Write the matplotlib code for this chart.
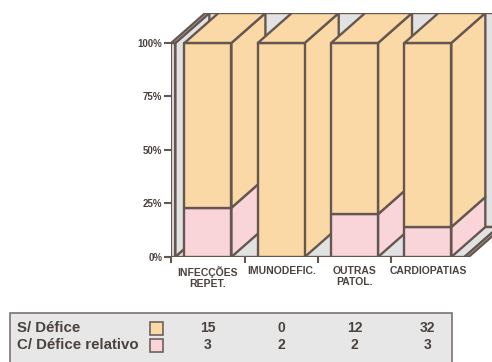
import matplotlib
matplotlib.use("Agg")
import matplotlib.pyplot as plt
from matplotlib.patches import Polygon, Rectangle
import matplotlib.transforms as mtransforms

# data
categorias = ["INFECÇÕES\nREPET.", "IMUNODEFIC.", "OUTRAS\nPATOL.", "CARDIOPATIAS"]
pct_relativo = [23, 0, 20, 14]      # lower (pink) part, %
pct_sem = [77, 100, 80, 86]         # upper (orange) part
tab_sem = [15, 0, 12, 32]
tab_relativo = [3, 2, 2, 3]
series_nomes = ["S/ Défice", "C/ Défice relativo"]
yticks = [0, 25, 50, 75, 100]

laranja = "#fbd9a6"
rosa = "#f9d5da"
cinza = "#e2e2e2"
linha = "#655650"
texto = "#4a423e"

plt.rcParams["font.family"] = ["Liberation Sans", "DejaVu Sans"]
plt.rcParams["font.weight"] = "bold"

W, H = 492, 362
fig = plt.figure(figsize=(W / 100, H / 100), dpi=100)

def fx(px):
    return px / W

def fy(py):
    return 1 - py / H

# axes: 0% at y=257px, top of depth at y=13px, x from 171px to right edge
ax = fig.add_axes([fx(171.3), fy(257), fx(W - 171.3), (257 - 13) / H])
ax.set_xlim(-0.5, 3.875)
ax.set_ylim(0, 114)
ax.patch.set_visible(False)
for s in ax.spines.values():
    s.set_visible(False)

dx, dy = 0.464, 14.0     # oblique depth
t = 0.055                # wall thickness
x0, xr = -0.5, 3.5
bw = 0.32                # half bar width
lw = 1.7

def poly(pts, fc, z=1):
    ax.add_patch(Polygon(pts, closed=True, facecolor=fc, edgecolor=linha,
                         linewidth=lw, joinstyle="round", zorder=z))

# back wall, left wall, floor
poly([(x0 + dx, dy), (xr + dx, dy), (xr + dx, 100 + dy), (x0 + dx, 100 + dy)], cinza)
poly([(x0 + t, 0), (x0 + t + dx, dy), (x0 + t + dx, 100 + dy), (x0 + t, 100)], cinza)
poly([(x0, 0), (x0 + t, 0), (x0 + t, 100), (x0, 100)], "#f2f2f2")
poly([(x0, 100), (x0 + dx, 100 + dy), (x0 + t + dx, 100 + dy), (x0 + t, 100)], "#f4f4f4")
poly([(x0 + t, 0), (xr, 0), (xr + dx, dy), (x0 + t + dx, dy)], cinza)
poly([(xr, 0), (xr + t, 0), (xr + t + dx, dy), (xr + dx, dy)], "#f4f4f4")

# stacked bars, left to right
for i in range(len(categorias)):
    xl, xrr = i - bw, i + bw
    base = 0
    for val, cor in [(pct_relativo[i], rosa), (pct_sem[i], laranja)]:
        if val <= 0:
            continue
        top = base + val
        poly([(xrr, base), (xrr + dx, base + dy), (xrr + dx, top + dy), (xrr, top)], cor, 2)
        poly([(xl, base), (xrr, base), (xrr, top), (xl, top)], cor, 2)
        base = top
    poly([(xl, base), (xrr, base), (xrr + dx, base + dy), (xl + dx, base + dy)], laranja, 2)

# y axis ticks
ax.set_yticks(yticks)
ax.set_yticklabels([f"{v}%" for v in yticks], fontsize=7, fontweight="bold", color=texto)
ax.tick_params(axis="y", length=5, width=1.5, color=linha, pad=1.5)

# x ticks between categories, labels as text
ax.set_xticks([])
ax.set_xticks([i - 0.5 for i in range(len(categorias))], minor=True)
ax.tick_params(axis="x", which="minor", length=4.5, width=1.5, color=linha, direction="out")
for i, c in enumerate(categorias):
    ax.text(i, -4.4, c, ha="center", va="top", fontsize=7.5, fontweight="bold",
            color=texto, linespacing=1.1)

# data table
fig.add_artist(Rectangle((fx(10), fy(372)), fx(442), (372 - 313) / H,
                         transform=fig.transFigure, facecolor="#e7e7e7",
                         edgecolor="#7a7270", linewidth=1.2))
cores = [laranja, rosa]
linhas_y = [328, 345]
valores = [tab_sem, tab_relativo]
trans = mtransforms.blended_transform_factory(ax.transData, fig.transFigure)
for nome, cor, yy, vals in zip(series_nomes, cores, linhas_y, valores):
    fig.text(fx(17), fy(yy), nome, ha="left", va="center", fontsize=10.8,
             fontweight="bold", color=texto)
    fig.add_artist(Rectangle((fx(150), fy(yy + 6.5)), fx(13), 13 / H,
                             transform=fig.transFigure, facecolor=cor,
                             edgecolor="#6d6260", linewidth=1.2))
    for i, v in enumerate(vals):
        fig.text(i, fy(yy), str(v), transform=trans, ha="center", va="center",
                 fontsize=10, fontweight="bold", color=texto)

fig.savefig("out.png", dpi=100, facecolor="white")
